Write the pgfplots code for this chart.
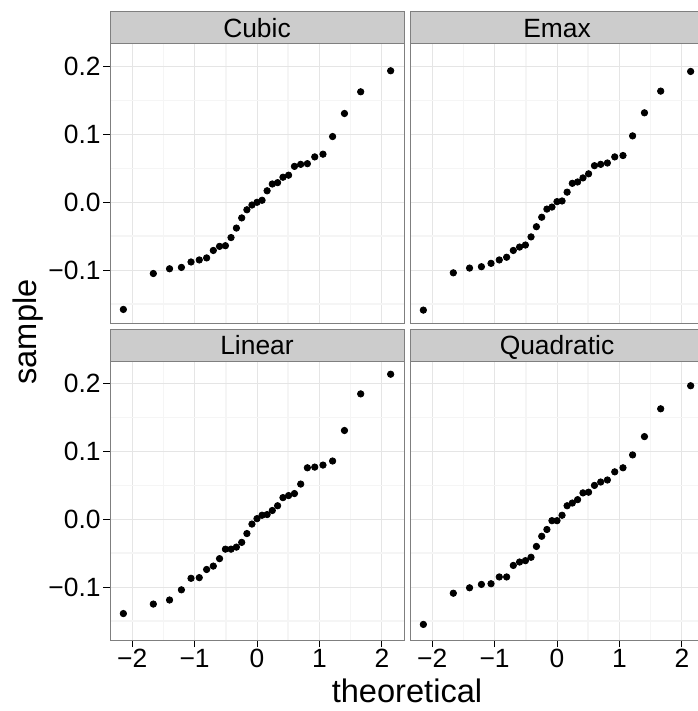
\documentclass[border=0pt]{standalone}
\usepackage{fontspec}
\setmainfont{Liberation Sans}
\usepackage{pgfplots}
\usepackage{pgfplotstable}
\pgfplotsset{compat=1.18}
\definecolor{g50}{HTML}{7F7F7F}
\definecolor{g80}{HTML}{CCCCCC}
\definecolor{g90}{HTML}{E5E5E5}
\definecolor{g97}{HTML}{F5F5F5}

\pgfplotstableread{
x cubic emax linear quad
-2.141 -0.158 -0.159 -0.139 -0.155
-1.661 -0.105 -0.104 -0.125 -0.109
-1.401 -0.098 -0.097 -0.119 -0.101
-1.211 -0.096 -0.095 -0.104 -0.096
-1.057 -0.088 -0.090 -0.087 -0.095
-0.925 -0.085 -0.085 -0.086 -0.085
-0.807 -0.082 -0.081 -0.074 -0.085
-0.700 -0.071 -0.071 -0.069 -0.068
-0.600 -0.065 -0.066 -0.058 -0.063
-0.506 -0.064 -0.063 -0.044 -0.061
-0.416 -0.052 -0.051 -0.044 -0.056
-0.330 -0.038 -0.036 -0.041 -0.040
-0.245 -0.023 -0.022 -0.034 -0.025
-0.162 -0.011 -0.010 -0.021 -0.015
-0.081 -0.004 -0.007 -0.007 -0.002
0.000 0.000 0.001 0.001 -0.002
0.081 0.003 0.002 0.006 0.006
0.162 0.017 0.015 0.007 0.020
0.245 0.027 0.028 0.013 0.024
0.330 0.029 0.030 0.020 0.029
0.416 0.037 0.036 0.032 0.039
0.506 0.040 0.042 0.035 0.040
0.600 0.053 0.054 0.038 0.050
0.700 0.056 0.056 0.052 0.055
0.807 0.057 0.058 0.076 0.058
0.925 0.067 0.067 0.077 0.070
1.057 0.071 0.069 0.080 0.076
1.211 0.097 0.098 0.086 0.095
1.401 0.131 0.132 0.131 0.122
1.661 0.163 0.164 0.185 0.163
2.141 0.194 0.193 0.214 0.197
}\qq

\pgfplotsset{
  facet/.style={
    scale only axis, width=147pt, height=139.5pt,
    anchor=north west,
    xmin=-2.355, xmax=2.355, ymin=-0.178, ymax=0.2335,
    xtick={-2,-1,0,1,2}, ytick={-0.1,0,0.1,0.2},
    minor xtick={-1.5,-0.5,0.5,1.5}, minor ytick={-0.15,-0.05,0.05,0.15},
    xmajorgrids, ymajorgrids, xminorgrids, yminorgrids,
    major grid style={g90, line width=0.5pt},
    minor grid style={g97, line width=0.8pt},
    axis line style={g50, line width=0.5pt},
    tick align=outside, major tick length=3.5pt, minor tick length=0pt,
    xtick pos=bottom, ytick pos=left,
    tick style={black, line width=0.5pt},
    tick label style={font=\fontsize{13.2}{15}\selectfont, inner sep=1pt},
    xticklabels={−2,−1,0,1,2},
    yticklabels={−0.1,0.0,0.1,0.2},
  },
  nox/.style={xmajorticks=false, xticklabels={}},
  noy/.style={ymajorticks=false, yticklabels={}},
  pts/.style={only marks, mark=*, mark size=1.6pt, black},
}

\begin{document}
\begin{tikzpicture}[trim right=348.5pt]
\path (0,0) (0,-355.5pt);

\begin{axis}[facet, nox, name=tl, at={(55pt,-22pt)}]
\addplot[pts] table[x=x, y=cubic] {\qq};
\end{axis}
\begin{axis}[facet, nox, noy, name=tr, at={(205pt,-22pt)}]
\addplot[pts] table[x=x, y=emax] {\qq};
\end{axis}
\begin{axis}[facet, name=bl, at={(55pt,-180.5pt)}]
\addplot[pts] table[x=x, y=linear] {\qq};
\end{axis}
\begin{axis}[facet, noy, name=br, at={(205pt,-180.5pt)}]
\addplot[pts] table[x=x, y=quad] {\qq};
\end{axis}

\foreach \n/\lab in {tl/Cubic, tr/Emax, bl/Linear, br/Quadratic}{
  \draw[g50, fill=g80, line width=0.5pt] (\n.north west) rectangle ([yshift=16pt]\n.north east);
  \node[font=\fontsize{13.2}{15}\selectfont, text=black, anchor=base, inner sep=0pt] at ([yshift=3.3pt]\n.north) {\lab};
}

\node[font=\fontsize{16.3}{19}\selectfont, anchor=base] at (203.5pt,-351pt) {theoretical};
\node[font=\fontsize{16.3}{19}\selectfont, anchor=base, rotate=90] at (18pt,-166pt) {sample};
\end{tikzpicture}
\end{document}
